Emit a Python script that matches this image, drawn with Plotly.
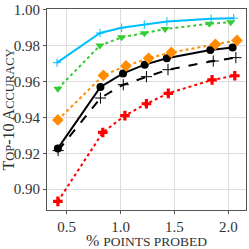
import plotly.graph_objects as go

# Data
cyan_x = [0.41, 0.81, 1.01, 1.22, 1.43, 1.84, 2.05]
cyan_y = [0.9705, 0.9870, 0.9899, 0.9917, 0.9934, 0.9950, 0.9953]

green_x = [0.418, 0.808, 1.009, 1.221, 1.413, 1.824, 2.022]
green_y = [0.9560, 0.9800, 0.9846, 0.9869, 0.9892, 0.9922, 0.9930]

orange_x = [0.418, 0.840, 1.050, 1.260, 1.470, 1.880, 2.080]
orange_y = [0.9386, 0.9634, 0.9687, 0.9729, 0.9762, 0.9807, 0.9829]

black_x = [0.418, 0.813, 1.023, 1.224, 1.429, 1.833, 2.040]
black_y = [0.9227, 0.9570, 0.9645, 0.9694, 0.9730, 0.9775, 0.9790]

dash_x = [0.420, 0.813, 1.025, 1.240, 1.440, 1.860, 2.070]
dash_y = [0.9215, 0.9508, 0.9582, 0.9627, 0.9666, 0.9714, 0.9733]

red_x = [0.418, 0.835, 1.040, 1.240, 1.443, 1.849, 2.060]
red_y = [0.8932, 0.9316, 0.9410, 0.9476, 0.9534, 0.9609, 0.9632]

x_ticks = [0.5, 1.0, 1.5, 2.0]
y_ticks = [0.90, 0.92, 0.94, 0.96, 0.98, 1.00]

fig = go.Figure()

fig.add_trace(go.Scatter(x=red_x, y=red_y, mode="lines+markers",
                         line=dict(color="#FF0000", width=2, dash="dot"),
                         marker=dict(symbol="cross", size=8, color="#FF0000")))
fig.add_trace(go.Scatter(x=dash_x, y=dash_y, mode="lines+markers",
                         line=dict(color="black", width=2, dash="dash"),
                         marker=dict(symbol="cross-thin-open", size=8,
                                     line=dict(color="#222", width=1))))
fig.add_trace(go.Scatter(x=black_x, y=black_y, mode="lines+markers",
                         line=dict(color="black", width=2),
                         marker=dict(symbol="circle", size=8, color="black")))
fig.add_trace(go.Scatter(x=orange_x, y=orange_y, mode="lines+markers",
                         line=dict(color="#FF8C00", width=2, dash="dot"),
                         marker=dict(symbol="diamond", size=9, color="#FF8C00")))
fig.add_trace(go.Scatter(x=green_x, y=green_y, mode="lines+markers",
                         line=dict(color="#32CD32", width=2, dash="dot"),
                         marker=dict(symbol="triangle-down", size=8, color="#32CD32")))
fig.add_trace(go.Scatter(x=cyan_x, y=cyan_y, mode="lines+markers",
                         line=dict(color="#00BFFF", width=2),
                         marker=dict(symbol="cross-thin-open", size=6,
                                     line=dict(color="#00BFFF", width=1))))

font_family = "Liberation Serif, DejaVu Serif, serif"

fig.update_layout(
    width=249, height=249,
    margin=dict(l=45, r=2, t=5, b=34),
    paper_bgcolor="white", plot_bgcolor="white",
    showlegend=False,
    font=dict(family=font_family, color="#333", size=15),
    xaxis=dict(
        range=[0.317, 2.164], tickvals=x_ticks,
        ticktext=[f"{v:.1f}" for v in x_ticks],
        showgrid=True, gridcolor="#DDDDDD", gridwidth=1,
        zeroline=False, showline=True, mirror=True,
        linecolor="#555", linewidth=1,
        ticks="outside", ticklen=3, tickcolor="#555",
        tickfont=dict(size=15), ticklabeloverflow="allow",
        title=dict(text="% <span style='font-size:13.5px'>POINTS PROBED</span>",
                   font=dict(size=16), standoff=1),
    ),
    yaxis=dict(
        range=[0.8884, 1.0004], tickvals=y_ticks,
        ticktext=[f"{v:.2f}" for v in y_ticks],
        showgrid=True, gridcolor="#DDDDDD", gridwidth=1,
        zeroline=False, showline=True, mirror=True,
        linecolor="#555", linewidth=1,
        ticks="outside", ticklen=3, tickcolor="#555",
        tickfont=dict(size=15), ticklabeloverflow="allow",
        title=dict(text="T<span style='font-size:12.5px'>OP</span>-10 A<span style='font-size:12.5px'>CCURACY</span>",
                   font=dict(size=16), standoff=1),
    ),
)

fig.write_html("out.html", config={"displayModeBar": False},
               post_script="document.body.style.margin='0';document.body.style.overflow='hidden';")
